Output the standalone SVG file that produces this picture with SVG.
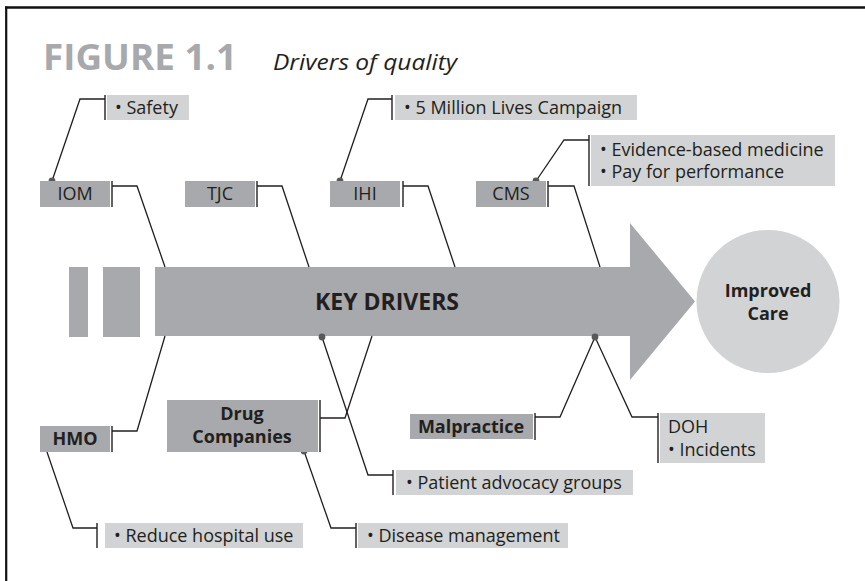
<svg xmlns="http://www.w3.org/2000/svg" width="865" height="581" viewBox="0 0 865 581">
  <style>
    text { font-family: "Open Sans", "Noto Sans", "Liberation Sans", sans-serif; fill: #231f20; }
    .lbl { font-size: 18px; }
    .lblc { font-size: 18px; text-anchor: middle; }
    .bold { font-weight: 700; }
    .dark { fill: #a7a9ac; }
    .light { fill: #d1d3d4; }
    .bar { stroke: #231f20; stroke-width: 1.4; fill: none; }
    .wire { stroke: #231f20; stroke-width: 1.3; fill: none; stroke-linejoin: miter; }
    .dot { fill: #58595b; }
  </style>

  <!-- frame -->
  <g id="frame" stroke="#111" fill="none">
    <line x1="5" y1="7.5" x2="865" y2="7.5" stroke-width="2.4"/>
    <line x1="6.2" y1="6.5" x2="6.2" y2="581" stroke-width="2.2"/>
  </g>

  <!-- heading -->
  <g id="title">
    <text x="43" y="70" textLength="194" lengthAdjust="spacingAndGlyphs" style="font-size:35px;font-weight:700;fill:#a7a9ac">FIGURE 1.1</text>
    <text x="273" y="70" textLength="184" lengthAdjust="spacingAndGlyphs" style="font-size:22px;font-style:italic">Drivers of quality</text>
  </g>

  <!-- main arrow -->
  <g id="key-drivers">
    <rect class="dark" x="69" y="267" width="19" height="70"/>
    <rect class="dark" x="103" y="267" width="37" height="70"/>
    <polygon class="dark" points="155,267 630,267 630,223 695,301.5 630,380 630,336 155,336"/>
    <text x="387" y="310" class="bold" style="font-size:23px;text-anchor:middle">KEY DRIVERS</text>
  </g>

  <g id="improved-care">
    <circle class="light" cx="768" cy="301.5" r="71.5"/>
    <text x="768" y="297" class="lblc bold">Improved</text>
    <text x="768" y="320" class="lblc bold">Care</text>
  </g>

  <!-- connectors -->
  <g id="connectors">
    <!-- upper side -->
    <polyline class="wire" points="52,181 80,99 105,99"/>
    <polyline class="wire" points="112,186 137,186 165,267"/>
    <polyline class="wire" points="257,186 282,186 309,267"/>
    <polyline class="wire" points="340,181 368,99 392,99"/>
    <polyline class="wire" points="403,186 428,186 455,267"/>
    <polyline class="wire" points="536,181 564,140 589,140"/>
    <polyline class="wire" points="548,186 574,186 600,267"/>
    <!-- lower side -->
    <polyline class="wire" points="112,431 137,431 165,336"/>
    <polyline class="wire" points="47,452 73,528 97,528"/>
    <polyline class="wire" points="320,418 345,418 372,336"/>
    <polyline class="wire" points="304,451 331,528 356,528"/>
    <polyline class="wire" points="322,337 368,475 393,475"/>
    <polyline class="wire" points="535,417 560,417 595,337"/>
    <polyline class="wire" points="595,337 632,417 658,417"/>
    <!-- junction dots -->
    <circle class="dot" cx="52" cy="181" r="3.4"/>
    <circle class="dot" cx="340" cy="181" r="3.4"/>
    <circle class="dot" cx="536" cy="181" r="3.4"/>
    <circle class="dot" cx="322" cy="337" r="3.4"/>
    <circle class="dot" cx="595" cy="337" r="3.4"/>
    <circle class="dot" cx="304" cy="451" r="3.4"/>
  </g>

  <!-- upper bodies -->
  <g id="iom">
    <rect class="dark" x="40" y="181" width="70" height="26"/>
    <line class="bar" x1="112" y1="181" x2="112" y2="207"/>
    <text x="75" y="200" class="lblc">IOM</text>
  </g>
  <g id="iom-safety">
    <line class="bar" x1="105" y1="95" x2="105" y2="120"/>
    <rect class="light" x="107" y="95" width="82" height="25"/>
    <text x="115" y="114" class="lbl">• Safety</text>
  </g>

  <g id="tjc">
    <rect class="dark" x="185" y="181" width="70" height="26"/>
    <line class="bar" x1="257" y1="181" x2="257" y2="207"/>
    <text x="220" y="200" class="lblc">TJC</text>
  </g>

  <g id="ihi">
    <rect class="dark" x="330" y="181" width="70" height="26"/>
    <line class="bar" x1="403" y1="181" x2="403" y2="207"/>
    <text x="365" y="200" class="lblc">IHI</text>
  </g>
  <g id="ihi-campaign">
    <line class="bar" x1="392" y1="95" x2="392" y2="120"/>
    <rect class="light" x="395" y="95" width="242" height="25"/>
    <text x="404" y="114" class="lbl">• 5 Million Lives Campaign</text>
  </g>

  <g id="cms">
    <rect class="dark" x="476" y="181" width="70" height="26"/>
    <line class="bar" x1="548" y1="181" x2="548" y2="207"/>
    <text x="511" y="200" class="lblc">CMS</text>
  </g>
  <g id="cms-programs">
    <line class="bar" x1="589" y1="135" x2="589" y2="186"/>
    <rect class="light" x="591" y="135" width="244" height="51"/>
    <text x="600" y="156" class="lbl">• Evidence-based medicine</text>
    <text x="600" y="178" class="lbl">• Pay for performance</text>
  </g>

  <!-- lower bodies -->
  <g id="hmo">
    <rect class="dark" x="40" y="426" width="70" height="26"/>
    <line class="bar" x1="112" y1="426" x2="112" y2="452"/>
    <text x="75" y="445" class="lblc bold">HMO</text>
  </g>
  <g id="hmo-use">
    <line class="bar" x1="97" y1="523" x2="97" y2="548"/>
    <rect class="light" x="105" y="523" width="198" height="25"/>
    <text x="114" y="542" class="lbl">• Reduce hospital use</text>
  </g>

  <g id="drug-companies">
    <rect class="dark" x="167" y="400" width="151" height="52"/>
    <line class="bar" x1="320" y1="400" x2="320" y2="452"/>
    <text x="242" y="420" class="lblc bold">Drug</text>
    <text x="242" y="443" class="lblc bold">Companies</text>
  </g>
  <g id="drug-disease">
    <line class="bar" x1="356" y1="523" x2="356" y2="548"/>
    <rect class="light" x="358" y="523" width="210" height="25"/>
    <text x="367" y="542" class="lbl">• Disease management</text>
  </g>

  <g id="patient-advocacy">
    <line class="bar" x1="393" y1="470" x2="393" y2="495"/>
    <rect class="light" x="396" y="470" width="237" height="25"/>
    <text x="406" y="489" class="lbl">• Patient advocacy groups</text>
  </g>

  <g id="malpractice">
    <rect class="dark" x="410" y="414" width="123" height="25"/>
    <line class="bar" x1="535" y1="413" x2="535" y2="440"/>
    <text x="471" y="433" class="lblc bold">Malpractice</text>
  </g>

  <g id="doh">
    <line class="bar" x1="658" y1="413" x2="658" y2="463"/>
    <rect class="light" x="660" y="413" width="105" height="50"/>
    <text x="668" y="433" class="lbl">DOH</text>
    <text x="668" y="456" class="lbl">• Incidents</text>
  </g>
</svg>
